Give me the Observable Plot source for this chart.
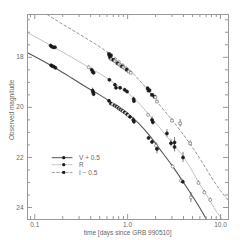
<!DOCTYPE html>
<html><head><meta charset="utf-8">
<script src="https://cdn.jsdelivr.net/npm/d3@7"></script>
<script src="https://cdn.jsdelivr.net/npm/@observablehq/plot@0.6"></script>
<style>body{margin:0;background:#fff}</style>
</head><body><div id="chart"></div>
<script>
// V + 0.5 photometry
const vTime = [0.150,0.154,0.160,0.167,0.42,0.425,0.43,0.63,0.66,0.69,0.72,0.74,0.76,0.78,0.80,0.82,0.84,0.86,0.88,0.90,0.93,0.96,0.99,1.02,1.06,1.15,1.17,1.68,1.83,2.02,2.07,3.05,3.75,3.93,4.8];
const vMag  = [18.32,18.35,18.37,18.42,19.33,19.40,19.47,19.74,19.85,19.88,19.92,19.95,19.97,20.00,20.03,20.06,20.09,20.11,20.14,20.16,20.20,20.24,20.28,20.33,20.38,20.50,20.57,21.22,21.38,21.53,21.66,22.36,22.93,22.97,23.60];
const vErr  = [0.04,0.04,0.04,0.04,0.10,0.10,0.10,0.05,0.05,0.04,0.04,0.04,0.04,0.04,0.04,0.04,0.04,0.04,0.04,0.04,0.04,0.04,0.04,0.04,0.04,0.10,0.10,0.06,0.06,0.12,0.20,0.06,0.06,0.06,0.20];
const vSrc  = ["a","a","a","a","a","a","a","a","a","b","a","b","a","b","a","b","a","b","a","b","a","b","a","b","a","a","a","a","a","b","a","b","b","a","b"];
// R photometry
const rTime = [0.148,0.152,0.158,0.165,0.38,0.41,0.42,0.43,0.636,0.73,0.75,0.83,0.93,0.985,1.16,1.17,1.66,1.83,1.87,2.65,2.93,3.2,3.2,3.95,5.8,6.7,7.75];
const rMag  = [17.53,17.57,17.60,17.60,18.40,18.50,18.58,18.62,18.90,19.10,19.22,19.22,19.30,19.37,19.67,19.75,20.30,20.50,20.59,21.04,21.43,21.40,21.58,22.00,23.02,23.40,23.70];
const rErr  = [0.04,0.04,0.04,0.04,0.06,0.06,0.08,0.08,0.05,0.05,0.05,0.05,0.05,0.05,0.08,0.08,0.06,0.12,0.12,0.15,0.15,0.20,0.20,0.20,0.08,0.08,0.08];
const rSrc  = ["a","a","a","a","b","a","a","a","a","a","a","a","a","a","a","a","b","a","a","a","a","a","a","a","b","b","b"];
// I - 0.5 photometry
const iTime = [0.63,0.64,0.65,0.66,0.67,0.70,0.73,0.76,0.78,0.81,0.84,0.87,0.90,0.94,0.98,1.03,1.08,1.64,1.68,1.72,1.83,1.94,1.99,2.07,3.0,3.68,4.72];
const iMag  = [17.87,17.95,18.02,17.92,18.08,18.10,18.15,18.20,18.24,18.28,18.32,18.36,18.40,18.45,18.50,18.57,18.62,19.24,19.33,19.32,19.50,19.57,19.60,19.77,20.53,20.64,21.44];
const iErr  = [0.04,0.04,0.04,0.04,0.04,0.04,0.04,0.04,0.04,0.04,0.04,0.04,0.04,0.04,0.04,0.04,0.04,0.06,0.06,0.06,0.06,0.06,0.06,0.06,0.08,0.15,0.10];
const iSrc  = ["a","a","a","a","b","a","b","b","a","b","b","a","b","b","a","b","b","a","a","a","a","a","b","b","b","b","b"];
// fitted curves
const vFitT = [0.0835,0.12,0.17,0.25,0.35,0.5,0.7,1.0,1.3,1.7,2.2,3.0,4.0,5.0,6.0,7.0];
const vFitM = [17.82,18.13,18.45,18.83,19.17,19.5,19.85,20.25,20.62,21.1,21.65,22.32,23.0,23.55,24.02,24.45];
const rFitT = [0.0835,0.12,0.17,0.25,0.35,0.5,0.7,1.0,1.3,1.7,2.2,3.0,4.0,5.0,6.0,7.5,9.0,10.5];
const rFitM = [17.02,17.33,17.65,18.0,18.32,18.65,19.0,19.42,19.8,20.3,20.8,21.42,21.98,22.56,23.08,23.65,24.15,24.48];
const iFitT = [0.136,0.2,0.3,0.45,0.65,0.9,1.2,1.6,2.0,2.5,3.0,4.0,5.0,6.5,8.0,10.0,12.2];
const iFitM = [16.29,16.68,17.07,17.47,17.87,18.27,18.72,19.25,19.7,20.15,20.5,21.1,21.6,22.25,22.8,23.33,23.72];
// axes
const xLabels = [0.1, 1, 10];
const xMinor = [0.09,0.2,0.3,0.4,0.5,0.6,0.7,0.8,0.9,2,3,4,5,6,7,8,9];
const yLabels = [18, 20, 22, 24];
const yMinor = [16.5,17,17.5,18.5,19,19.5,20.5,21,21.5,22.5,23,23.5];
const yTitle = "Observed magnitude";
const xTitle = "time [days since GRB 990510]";
// legend
const legendNames = ["V + 0.5", "R", "I \u2212 0.5"];
const legendMag = [22.01, 22.29, 22.6];
const legendT = [0.154, 0.205, 0.252, 0.30];

const pts = (T, M, E, S) => T.map((t, k) => ({t, m: M[k], e: E[k], s: S[k]}));
const V = pts(vTime, vMag, vErr, vSrc), R = pts(rTime, rMag, rErr, rSrc), I = pts(iTime, iMag, iErr, iSrc);
const fit = (T, M) => T.map((t, k) => ({t, m: M[k]}));
const W = 243, H = 240, mL = 27, mR = 15, mT = 14, mB = 21;
const fw = W - mL - mR, fh = H - mT - mB;
const axisCol = "#999", textCol = "#666";

function seriesMarks(D, symbol) {
  return [
    Plot.ruleX(D, {x: "t", y1: d => d.m - d.e, y2: d => d.m + d.e, stroke: "#444", strokeWidth: 0.7}),
    Plot.dot(D, {x: "t", y: "m", r: 1.5, symbol, fill: d => d.s === "a" ? "#1a1a1a" : "#fff",
      stroke: d => d.s === "a" ? "#1a1a1a" : "#777", strokeWidth: 0.7})
  ];
}
const legendRows = legendNames.map((n, k) => ({n, m: legendMag[k]}));
const legendStyles = [
  {stroke: "#555", strokeWidth: 1},
  {stroke: "#aaa", strokeWidth: 0.7, strokeDasharray: "3,1,1,1"},
  {stroke: "#888", strokeWidth: 0.8, strokeDasharray: "2.5,2"}
];
const legendSymbols = ["circle", "circle", "square"];

const chart = Plot.plot({
  width: W, height: H,
  marginLeft: mL, marginRight: mR, marginTop: mT, marginBottom: mB,
  x: {type: "log", domain: [0.0835, 12.2]},
  y: {domain: [16.29, 24.48], reverse: true},
  style: {fontFamily: "'Liberation Sans', Arial, sans-serif", fontSize: "6.5px", color: textCol, background: "#fff"},
  marks: [
    Plot.line(fit(vFitT, vFitM), {x: "t", y: "m", curve: "monotone-x", stroke: "#555", strokeWidth: 1.1}),
    Plot.line(fit(rFitT, rFitM), {x: "t", y: "m", curve: "monotone-x", stroke: "#bbb", strokeWidth: 0.9}),
    Plot.line(fit(iFitT, iFitM), {x: "t", y: "m", curve: "monotone-x", stroke: "#888", strokeWidth: 0.9, strokeDasharray: "2.5,2.5"}),
    ...seriesMarks(V, "circle"),
    ...seriesMarks(R, "circle"),
    ...seriesMarks(I, "square"),
    // legend
    ...legendRows.map((row, k) => Plot.line([{t: legendT[0], m: row.m}, {t: legendT[2], m: row.m}], {x: "t", y: "m", ...legendStyles[k]})),
    ...legendRows.map((row, k) => Plot.dot([row], {x: () => legendT[1], y: "m", r: 1.6, symbol: legendSymbols[k], fill: "#1a1a1a"})),
    Plot.text(legendRows, {x: () => legendT[3], y: "m", text: "n", textAnchor: "start", fill: textCol}),
    // frame and inward ticks
    Plot.frame({stroke: axisCol}),
    Plot.tickX(xMinor, {x: d => d, insetTop: fh - 3, stroke: axisCol}),
    Plot.tickX(xMinor, {x: d => d, insetBottom: fh - 3, stroke: axisCol}),
    Plot.tickX(xLabels, {x: d => d, insetTop: fh - 5, stroke: axisCol}),
    Plot.tickX(xLabels, {x: d => d, insetBottom: fh - 5, stroke: axisCol}),
    Plot.tickY(yMinor, {y: d => d, insetRight: fw - 3, stroke: axisCol}),
    Plot.tickY(yMinor, {y: d => d, insetLeft: fw - 3, stroke: axisCol}),
    Plot.tickY(yLabels, {y: d => d, insetRight: fw - 5, stroke: axisCol}),
    Plot.tickY(yLabels, {y: d => d, insetLeft: fw - 5, stroke: axisCol}),
    Plot.axisX({ticks: xLabels, tickSize: 0, tickPadding: 3, tickFormat: d => d3.format(".1f")(d), label: null}),
    Plot.axisY({ticks: yLabels, tickSize: 0, tickPadding: 4, tickFormat: d => String(d), label: null}),
    Plot.text([yTitle], {x: () => 0.057, y: () => 20.1, rotate: -90, fill: textCol}),
    Plot.text([xTitle], {x: () => 1.0, y: () => 24.48, dy: 13.5, fill: textCol})
  ]
});
document.getElementById("chart").appendChild(chart);
</script>
</body></html>
